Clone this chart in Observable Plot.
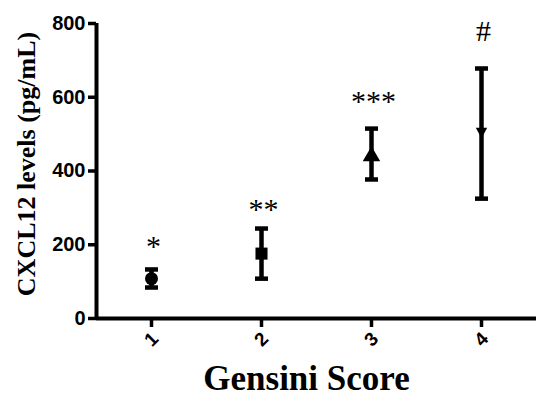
<!DOCTYPE html>
<html>
<head>
<meta charset="utf-8">
<script src="https://cdn.jsdelivr.net/npm/d3@7"></script>
<script src="https://cdn.jsdelivr.net/npm/@observablehq/plot@0.6"></script>
<style>
  html, body { margin: 0; padding: 0; background: #fff; }
  svg { display: block; }
</style>
</head>
<body>
<div id="chart"></div>
<script>
// ---- data ----
const scores = [1, 2, 3, 4];
const means = [108, 176, 440, 505];
const lower = [84, 108, 377, 325];
const upper = [133, 244, 515, 678];
const sigLabels = ["*", "**", "***", "#"];
const sigY = [195, 295, 590, 778];
const yTicks = [0, 200, 400, 600, 800];
const markerSymbols = ["circle", "square", "triangle", "triangleDown"];

const data = scores.map((s, i) => ({
  score: s, mean: means[i], lower: lower[i], upper: upper[i],
  sig: sigLabels[i], sigY: sigY[i], marker: markerSymbols[i]
}));

// custom symbols
const capSymbol = {
  draw(context, size) {
    const w = Math.sqrt(size / Math.PI);
    context.moveTo(-w, 0);
    context.lineTo(w, 0);
  }
};
const triangleDown = {
  draw(context, size) {
    const r = Math.sqrt(size / Math.PI);
    context.moveTo(0, r);
    context.lineTo(r * 0.95, -r * 0.75);
    context.lineTo(-r * 0.95, -r * 0.75);
    context.closePath();
  }
};
const symbolFor = {circle: "circle", square: "square", triangle: "triangle", triangleDown: triangleDown};

const serif = "'Liberation Serif', 'Times New Roman', serif";
const sans = "'Liberation Sans', Arial, sans-serif";

const markMarks = markerSymbols.map(m =>
  Plot.dot(data.filter(d => d.marker === m), {
    x: "score", y: "mean", symbol: symbolFor[m],
    r: m === "circle" ? 6.5 : m === "square" ? 6.8 : m === "triangle" ? 6.5 : 6,
    fill: "#000", stroke: "none"
  })
);

const chart = Plot.plot({
  width: 536,
  height: 397,
  marginLeft: 96,
  marginRight: 0,
  marginTop: 23,
  marginBottom: 79,
  style: {background: "#fff", color: "#000", fontFamily: sans},
  x: {domain: [0.5, 4.5], ticks: scores},
  y: {domain: [0, 800], ticks: yTicks},
  marks: [
    Plot.axisY({
      ticks: yTicks, tickSize: 8, tickPadding: 3, strokeWidth: 3.5,
      fontSize: 20, fontWeight: "bold", label: null, fill: "#000"
    }),
    Plot.axisX({
      ticks: scores, tickSize: 9, strokeWidth: 3.5, tickFormat: d => String(d),
      tickRotate: -45, textAnchor: "middle", lineAnchor: "middle",
      tickPadding: 12, fontSize: 19, fontWeight: "bold", label: null, fill: "#000"
    }),
    Plot.ruleX([0.5], {stroke: "#000", strokeWidth: 4}),
    Plot.ruleY([0], {stroke: "#000", strokeWidth: 4}),
    // error bars
    Plot.ruleX(data, {x: "score", y1: "lower", y2: "upper", stroke: "#000", strokeWidth: 4.5}),
    Plot.dot(data, {x: "score", y: "upper", symbol: capSymbol, r: 6.5, stroke: "#000", fill: "none", strokeWidth: 4.5}),
    Plot.dot(data, {x: "score", y: "lower", symbol: capSymbol, r: 6.5, stroke: "#000", fill: "none", strokeWidth: 4.5}),
    ...markMarks,
    // significance markers
    Plot.text(data, {
      x: "score", y: "sigY", text: "sig", fontSize: 30, fontFamily: serif,
      fill: "#000", lineAnchor: "middle", textAnchor: "middle",
      dx: 2, style: "letter-spacing: 4px"
    }),
    // axis titles
    Plot.text(["CXCL12 levels (pg/mL)"], {
      frameAnchor: "left", rotate: -90, dx: -70, dy: -7, fontSize: 26,
      fontWeight: "bold", fontFamily: serif, fill: "#000",
      lineAnchor: "middle", textAnchor: "middle"
    }),
    Plot.text(["Gensini Score"], {
      frameAnchor: "bottom", dx: -10, dy: 60, fontSize: 35,
      fontWeight: "bold", fontFamily: serif, fill: "#000", lineAnchor: "middle"
    })
  ]
});

document.getElementById("chart").appendChild(chart);
</script>
</body>
</html>
